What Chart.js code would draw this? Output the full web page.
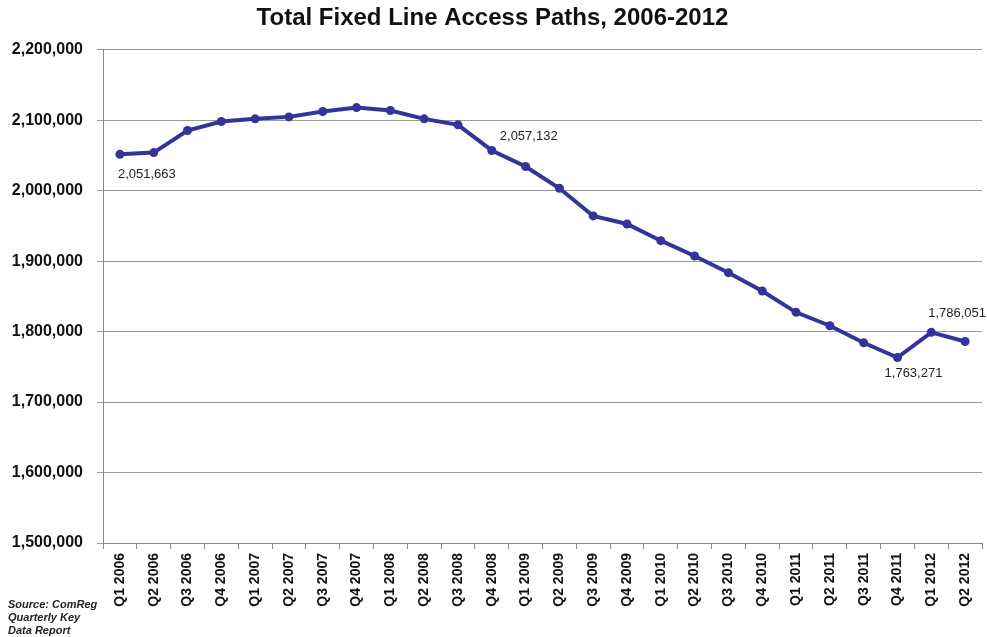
<!DOCTYPE html>
<html>
<head>
<meta charset="utf-8">
<script src="https://cdn.jsdelivr.net/npm/chart.js@4/dist/chart.umd.min.js"></script>
<style>
  html, body { margin: 0; padding: 0; background: #fff; }
  #wrap { position: relative; width: 987px; height: 637px; }
  #source {
    position: absolute; left: 8px; top: 598px;
    font: italic bold 11px Arial, "Liberation Sans", sans-serif;
    line-height: 13px; color: #222;
  }
</style>
</head>
<body>
<div id="wrap">
  <canvas id="myChart" width="987" height="637"></canvas>
  <div id="source">Source: ComReg<br>Quarterly Key<br>Data Report</div>
</div>
<script>
const quarters = [
  'Q1 2006', 'Q2 2006', 'Q3 2006', 'Q4 2006',
  'Q1 2007', 'Q2 2007', 'Q3 2007', 'Q4 2007',
  'Q1 2008', 'Q2 2008', 'Q3 2008', 'Q4 2008',
  'Q1 2009', 'Q2 2009', 'Q3 2009', 'Q4 2009',
  'Q1 2010', 'Q2 2010', 'Q3 2010', 'Q4 2010',
  'Q1 2011', 'Q2 2011', 'Q3 2011', 'Q4 2011',
  'Q1 2012', 'Q2 2012'
];

const accessPaths = [
  2051663, 2054100, 2085400, 2098200,
  2102000, 2104800, 2112400, 2118000,
  2113800, 2102000, 2093500, 2057132,
  2034300, 2003500, 1964200, 1952800,
  1929100, 1907400, 1883700, 1857700,
  1827400, 1808400, 1784200, 1763271,
  1799000, 1786051
];

// which points carry a value label
const labelledPoints = [0, 11, 23, 25];

const yTicks = [1500000, 1600000, 1700000, 1800000, 1900000, 2000000, 2100000, 2200000];

const fontFamily = 'Arial, "Liberation Sans", sans-serif';
const lineColor = '#333399';

function fmt(n) {
  return n.toLocaleString('en-US');
}

// offsets for each labelled point: [dx, dy, align]
const labelOffsets = {
  0: [-2, 20, 'left'],
  11: [8, -14, 'left'],
  23: [16, 16, 'center'],
  25: [-8, -28, 'center']
};

const pointLabels = {
  id: 'pointLabels',
  afterDatasetsDraw(chart) {
    const ctx = chart.ctx;
    const meta = chart.getDatasetMeta(0);
    ctx.save();
    ctx.font = '13px ' + fontFamily;
    ctx.fillStyle = '#222';
    ctx.textBaseline = 'middle';
    labelledPoints.forEach(i => {
      const pt = meta.data[i];
      const [dx, dy, align] = labelOffsets[i];
      ctx.textAlign = align;
      ctx.fillText(fmt(accessPaths[i]), pt.x + dx, pt.y + dy);
    });
    ctx.restore();
  }
};

const chartCanvas = document.getElementById('myChart').getContext('2d');

new Chart(chartCanvas, {
  type: 'line',
  data: {
    labels: quarters,
    datasets: [{
      data: accessPaths,
      borderColor: lineColor,
      backgroundColor: lineColor,
      borderWidth: 4,
      pointRadius: 4.5,
      pointBackgroundColor: lineColor,
      pointBorderWidth: 0,
      tension: 0,
      fill: false
    }]
  },
  options: {
    responsive: false,
    animation: false,
    layout: { padding: { left: 3, right: 5, top: 0, bottom: 0 } },
    plugins: {
      legend: { display: false },
      tooltip: { enabled: false },
      title: {
        display: true,
        text: 'Total Fixed Line Access Paths, 2006-2012',
        color: '#111',
        font: { family: fontFamily, size: 24, weight: 'bold' },
        padding: { top: 4, bottom: 17 }
      }
    },
    scales: {
      x: {
        type: 'category',
        offset: true,
        grid: {
          offset: true,
          drawOnChartArea: false,
          drawTicks: true,
          tickLength: 6,
          color: '#8a8a8a'
        },
        border: { color: '#8a8a8a', width: 1 },
        ticks: {
          autoSkip: false,
          minRotation: 90,
          maxRotation: 90,
          padding: 4,
          color: '#111',
          font: { family: fontFamily, size: 14, weight: 'bold' }
        },
        afterFit(scale) { scale.height = 94; }
      },
      y: {
        min: 1500000,
        max: 2200000,
        afterBuildTicks(scale) {
          scale.ticks = yTicks.map(v => ({ value: v }));
        },
        grid: {
          color: '#9a9a9a',
          tickLength: 6,
          drawTicks: true
        },
        border: { color: '#8a8a8a', width: 1 },
        ticks: {
          padding: 14,
          color: '#111',
          font: { family: fontFamily, size: 16, weight: 'bold' },
          callback: v => fmt(v)
        },
        afterFit(scale) { scale.width = 100; }
      }
    }
  },
  plugins: [pointLabels]
});
</script>
</body>
</html>
